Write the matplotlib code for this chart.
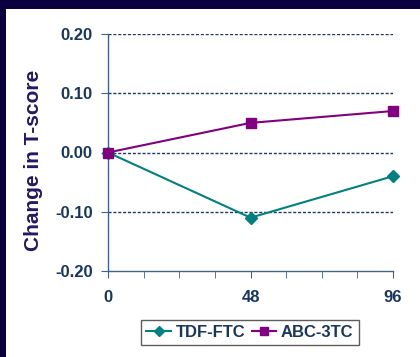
import matplotlib
matplotlib.use("Agg")
import matplotlib.pyplot as plt
from matplotlib.patches import Rectangle

plt.rcParams['font.family'] = ['Liberation Sans', 'DejaVu Sans']

weeks = [0, 48, 96]
tdf_ftc = [0.00, -0.11, -0.04]
abc_3tc = [0.00, 0.05, 0.07]
series_names = ["TDF-FTC", "ABC-3TC"]
y_ticks = [-0.20, -0.10, 0.00, 0.10, 0.20]
x_ticks = [0, 48, 96]

navy = "#17375e"
spine_col = "#3e6390"

fig = plt.figure(figsize=(4.2, 3.57), dpi=100)
fig.patch.set_facecolor("white")

# dark frame along the top and left edges
fig.patches.append(Rectangle((0, 1 - 9 / 357), 1, 9 / 357, transform=fig.transFigure,
                             facecolor="#0a0040", edgecolor="none", zorder=0))
fig.patches.append(Rectangle((0, 0), 6 / 420, 1, transform=fig.transFigure,
                             facecolor="#0a0040", edgecolor="none", zorder=0))

ax = fig.add_axes([108 / 420, 1 - 271 / 357, (393 - 108) / 420, (271 - 34) / 357])
ax.set_xlim(0, 96)
ax.set_ylim(-0.20, 0.20)

for y in [0.20, 0.10, 0.00, -0.10]:
    ax.axhline(y, color="#1a3a6a", lw=1.0, ls=(0, (2.2, 1.3)), zorder=1)

ax.plot(weeks, tdf_ftc, color="#008080", lw=1.5, marker="D", ms=6,
        label=series_names[0], zorder=3, clip_on=False)
ax.plot(weeks, abc_3tc, color="#800080", lw=1.5, marker="s", ms=7,
        label=series_names[1], zorder=3, clip_on=False)

for s in ["top", "right"]:
    ax.spines[s].set_visible(False)
for s in ["left", "bottom"]:
    ax.spines[s].set_color(spine_col)
    ax.spines[s].set_linewidth(1.0)

ax.set_yticks(y_ticks)
ax.set_yticklabels([f"{v:.2f}" for v in y_ticks])
ax.set_xticks(x_ticks)
ax.set_xticklabels([str(v) for v in x_ticks])
ax.set_xticks(range(0, 97, 12), minor=True)
ax.tick_params(axis="both", which="both", direction="out", color=spine_col,
               labelcolor=navy, labelsize=12)
ax.tick_params(axis="y", length=5, pad=6)
ax.tick_params(axis="x", which="both", length=5, pad=9)
for lab in ax.get_xticklabels() + ax.get_yticklabels():
    lab.set_fontweight("bold")

fig.text(34 / 420, 1 - 160 / 357, "Change in T-score", rotation=90, ha="center",
         va="center", fontsize=15, fontweight="bold", color="#221866")

leg = fig.legend(loc="center", bbox_to_anchor=(250 / 420, 1 - 332.5 / 357), ncol=2,
                 frameon=True, fancybox=False, edgecolor="#333333",
                 prop={"weight": "bold", "size": 12}, handlelength=1.45,
                 handletextpad=0.3, columnspacing=0.4, borderpad=0.3,
                 borderaxespad=0, markerscale=0.8)
leg.get_frame().set_linewidth(1.0)
for t in leg.get_texts():
    t.set_color(navy)

fig.savefig("out.png", dpi=100, facecolor="white")
